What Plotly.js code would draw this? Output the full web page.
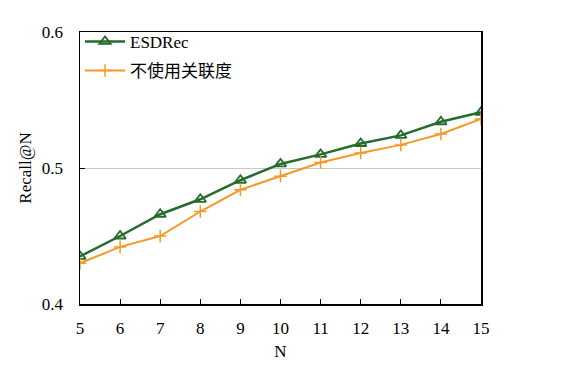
<!DOCTYPE html>
<html>
<head>
<meta charset="utf-8">
<script src="https://cdn.plot.ly/plotly-3.0.1.min.js"></script>
<style>html,body{margin:0;padding:0;background:#fff;}#chart{width:561px;height:367px;}</style>
</head>
<body>
<div id="chart"></div>
<script>
const nValues = [5, 6, 7, 8, 9, 10, 11, 12, 13, 14, 15];
const esdrec = [0.435, 0.450, 0.466, 0.477, 0.491, 0.503, 0.510, 0.518, 0.524, 0.534, 0.541];
const noRelevance = [0.430, 0.442, 0.450, 0.468, 0.484, 0.494, 0.504, 0.511, 0.517, 0.525, 0.536];
const seriesNames = ["ESDRec", "不使用关联度"];
const yTicks = [0.4, 0.5, 0.6];

const fam = '"Liberation Serif", "Times New Roman", "Noto Sans CJK SC", serif';

const traces = [
  {x: nValues, y: esdrec, name: seriesNames[0], legendgroup: 'a', mode: 'lines+markers',
   line: {color: '#256b2d', width: 2.5},
   marker: {symbol: 'triangle-up-open', size: 10, color: '#256b2d', line: {width: 1.8, color: '#256b2d'}}},
  {x: nValues, y: noRelevance, name: seriesNames[1], legendgroup: 'b', mode: 'lines+markers',
   line: {color: '#f39a2b', width: 2},
   marker: {symbol: 'cross-thin-open', size: 9, color: '#f39a2b', line: {width: 1.5, color: '#f39a2b'}}}
];

const layout = {
  width: 561, height: 367,
  margin: {l: 80, r: 80, t: 32, b: 63},
  paper_bgcolor: '#fff', plot_bgcolor: '#fff',
  font: {family: fam, size: 17, color: '#000'},
  showlegend: true,
  legend: {x: 0.0, y: 1.03, xanchor: 'left', yanchor: 'top', bgcolor: 'rgba(0,0,0,0)',
           font: {family: fam, size: 17, color: '#000'}, tracegroupgap: 4, itemwidth: 40},
  xaxis: {range: [5, 15], tickvals: nValues, ticks: 'inside', ticklen: 5, tickcolor: '#000',
          showline: true, linecolor: '#000', linewidth: 1.5, mirror: true, showgrid: false, zeroline: false,
          ticklabelstandoff: 8,
          title: {text: 'N', font: {family: fam, size: 17}, standoff: 8},
          tickfont: {family: fam, size: 17}},
  yaxis: {range: [0.4, 0.6], tickvals: yTicks, ticktext: yTicks.map(v => v.toFixed(1)),
          ticks: 'inside', ticklen: 5, tickcolor: '#000',
          showline: true, linecolor: '#000', linewidth: 1.5, mirror: true,
          showgrid: true, gridcolor: '#c8c8c8', gridwidth: 1, zeroline: false,
          ticklabelstandoff: 12,
          title: {text: 'Recall@N', font: {family: fam, size: 17}, standoff: 6},
          tickfont: {family: fam, size: 17}}
};

Plotly.newPlot('chart', traces, layout, {displayModeBar: false, staticPlot: true});
</script>
</body>
</html>
